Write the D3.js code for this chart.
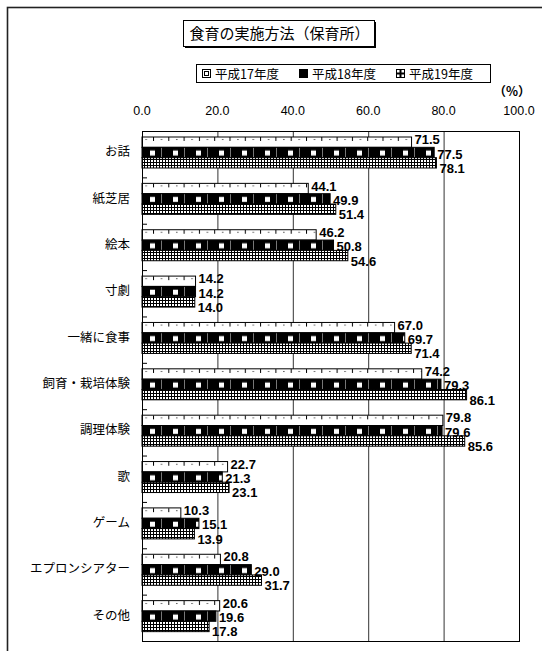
<!DOCTYPE html>
<html>
<head>
<meta charset="utf-8">
<title>食育の実施方法（保育所）</title>
<script src="https://cdn.jsdelivr.net/npm/d3@7"></script>
<style>
  body { margin: 0; background: #fff; }
  .cat { font-family: "Noto Sans CJK JP", sans-serif; font-size: 12.5px; }
  .tick-label { font-family: "Liberation Sans", Arial, sans-serif; font-size: 12.5px; }
  .val { font-family: "Liberation Sans", Arial, sans-serif; font-size: 13px; font-weight: bold; }
</style>
</head>
<body>
<div id="chart"></div>
<script>
// data
const categories = ["お話", "紙芝居", "絵本", "寸劇", "一緒に食事", "飼育・栽培体験", "調理体験", "歌", "ゲーム", "エプロンシアター", "その他"];
const seriesNames = ["平成17年度", "平成18年度", "平成19年度"];
const h17 = [71.5, 44.1, 46.2, 14.2, 67.0, 74.2, 79.8, 22.7, 10.3, 20.8, 20.6];
const h18 = [77.5, 49.9, 50.8, 14.2, 69.7, 79.3, 79.6, 21.3, 15.1, 29.0, 19.6];
const h19 = [78.1, 51.4, 54.6, 14.0, 71.4, 86.1, 85.6, 23.1, 13.9, 31.7, 17.8];
const xTicks = [0, 20, 40, 60, 80, 100];

const seriesValues = [h17, h18, h19];

const W = 542, H = 651;
const plot = {left: 142, right: 519, top: 131, bottom: 641};

const svg = d3.select("#chart").append("svg")
    .attr("width", W).attr("height", H);

// patterns for the three series
const defs = svg.append("defs");
const p17 = defs.append("pattern").attr("id", "p17")
    .attr("patternUnits", "userSpaceOnUse").attr("width", 15.3).attr("height", 46.4)
    .attr("y", plot.top + 6);
p17.append("rect").attr("width", 15.3).attr("height", 46.4).attr("fill", "#fff");
p17.append("line").attr("x1", 0.5).attr("x2", 0.5).attr("y1", 0).attr("y2", 4)
    .attr("stroke", "#000").attr("stroke-width", 1);
p17.append("rect").attr("x", 8).attr("y", 2).attr("width", 1).attr("height", 1).attr("fill", "#000");

const p18 = defs.append("pattern").attr("id", "p18")
    .attr("patternUnits", "userSpaceOnUse").attr("width", 23).attr("height", 46.4)
    .attr("x", plot.left).attr("y", plot.top);
p18.append("rect").attr("width", 23).attr("height", 46.4).attr("fill", "#000");
p18.append("rect").attr("x", 8).attr("y", 19.5).attr("width", 5).attr("height", 5).attr("fill", "#fff");
p18.append("line").attr("x1", 19.5).attr("x2", 19.5).attr("y1", 0).attr("y2", 46.4)
    .attr("stroke", "#777").attr("stroke-width", 1);

const p19 = defs.append("pattern").attr("id", "p19")
    .attr("patternUnits", "userSpaceOnUse").attr("width", 3).attr("height", 3);
p19.append("rect").attr("width", 3).attr("height", 3).attr("fill", "#fff");
p19.append("rect").attr("x", 0).attr("y", 0).attr("width", 1).attr("height", 3).attr("fill", "#000");
p19.append("rect").attr("x", 1).attr("y", 0).attr("width", 2).attr("height", 1).attr("fill", "#000");

const fills = ["url(#p17)", "url(#p18)", "url(#p19)"];

// outer frame
svg.append("rect")
    .attr("x", 7.5).attr("y", 7.5).attr("width", 600).attr("height", 700)
    .attr("fill", "none").attr("stroke", "#222").attr("stroke-width", 1.6);

// scales
const x = d3.scaleLinear().domain([0, 100]).range([plot.left, plot.right]);
const y = d3.scaleBand().domain(categories).range([plot.top, plot.bottom]);
const ySub = d3.scaleBand().domain(seriesNames).range([6, 37]);

// grid lines
svg.append("g").selectAll("line")
    .data(xTicks.slice(1, -1))
    .join("line")
    .attr("x1", d => x(d) + 0.5).attr("x2", d => x(d) + 0.5)
    .attr("y1", plot.top).attr("y2", plot.bottom)
    .attr("stroke", "#333").attr("stroke-width", 1);

// top axis labels
svg.append("g").selectAll("text")
    .data(xTicks)
    .join("text")
    .attr("class", "tick-label")
    .attr("x", d => x(d))
    .attr("y", 115)
    .attr("text-anchor", "middle")
    .text(d => d.toFixed(1));

svg.append("text")
    .attr("x", 512).attr("y", 96)
    .attr("text-anchor", "middle")
    .style("font-weight", "bold")
    .style("font-family", "'Noto Sans CJK JP', sans-serif")
    .style("font-size", "12.5px")
    .text("（%）");

// bars
seriesNames.forEach((s, si) => {
    const vals = seriesValues[si];
    svg.append("g").selectAll("rect")
        .data(categories)
        .join("rect")
        .attr("x", plot.left)
        .attr("y", (c) => y(c) + ySub(s))
        .attr("width", (c, i) => x(vals[i]) - plot.left)
        .attr("height", ySub.bandwidth())
        .attr("fill", fills[si])
        .attr("stroke", "#000")
        .attr("stroke-width", 1);
});

// plot frame
svg.append("rect")
    .attr("x", plot.left + 0.5).attr("y", plot.top + 0.5)
    .attr("width", plot.right - plot.left).attr("height", plot.bottom - plot.top)
    .attr("fill", "none").attr("stroke", "#000").attr("stroke-width", 1);

// category boundary ticks
svg.append("g").selectAll("line")
    .data(categories.slice(1))
    .join("line")
    .attr("x1", plot.left).attr("x2", plot.left + 5)
    .attr("y1", c => y(c) + 0.5).attr("y2", c => y(c) + 0.5)
    .attr("stroke", "#000");

// value labels
const dyOff = [2, 6, 10];
seriesNames.forEach((s, si) => {
    const vals = seriesValues[si];
    svg.append("g").selectAll("text")
        .data(categories)
        .join("text")
        .attr("class", "val")
        .attr("x", (c, i) => x(vals[i]) + 3)
        .attr("y", c => y(c) + ySub(s) + ySub.bandwidth() / 2 + dyOff[si])
        .text((c, i) => vals[i].toFixed(1));
});

// category labels
svg.append("g").selectAll("text")
    .data(categories)
    .join("text")
    .attr("class", "cat")
    .attr("x", 130)
    .attr("y", c => y(c) + y.bandwidth() / 2 + 2)
    .attr("text-anchor", "end")
    .text(d => d);

// title box
const tb = {x: 183, y: 20, w: 191, h: 26};
svg.append("rect").attr("x", tb.x + 2).attr("y", tb.y + 2).attr("width", tb.w).attr("height", tb.h).attr("fill", "#000");
svg.append("rect").attr("x", tb.x + 0.5).attr("y", tb.y + 0.5).attr("width", tb.w).attr("height", tb.h)
    .attr("fill", "#fff").attr("stroke", "#000").attr("stroke-width", 1);
svg.append("text")
    .attr("x", tb.x + tb.w / 2 + 1).attr("y", tb.y + 19)
    .attr("text-anchor", "middle")
    .style("font-family", "'Noto Sans CJK JP', sans-serif")
    .style("font-size", "15px")
    .text("食育の実施方法（保育所）");

// legend
const lg = {x: 196, y: 64, w: 294, h: 18};
svg.append("rect").attr("x", lg.x + 0.5).attr("y", lg.y + 0.5).attr("width", lg.w).attr("height", lg.h)
    .attr("fill", "#fff").attr("stroke", "#000").attr("stroke-width", 1);
const legendItems = svg.append("g").selectAll("g")
    .data(seriesNames)
    .join("g")
    .attr("transform", (d, i) => `translate(${lg.x + 6 + i * 97},${lg.y + 5})`);
legendItems.append("rect")
    .attr("x", 0.5).attr("y", 0.5).attr("width", 8).attr("height", 8)
    .attr("fill", (d, i) => ["#fff", "#000", "#fff"][i])
    .attr("stroke", "#000");
legendItems.filter((d, i) => i === 0).append("rect")
    .attr("x", 2.5).attr("y", 2.5).attr("width", 4).attr("height", 4)
    .attr("fill", "none").attr("stroke", "#000");
legendItems.filter((d, i) => i === 2).append("path")
    .attr("d", "M1,4.5H8M4.5,1V8")
    .attr("stroke", "#000").attr("stroke-width", 2);
legendItems.append("text")
    .attr("x", 13).attr("y", 9.5)
    .style("font-family", "'Noto Sans CJK JP', sans-serif")
    .style("font-size", "12.5px")
    .text(d => d);
</script>
</body>
</html>
